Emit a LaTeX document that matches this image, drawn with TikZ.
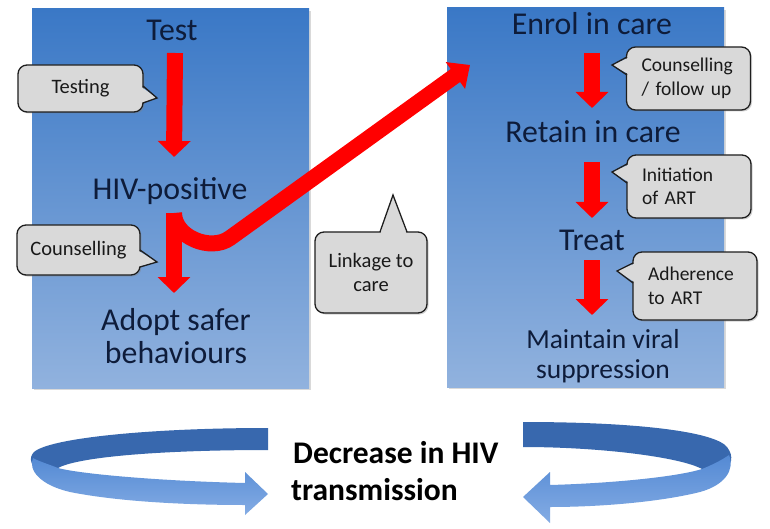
\documentclass[tikz,border=0pt]{standalone}
\usepackage{fontspec}
\setmainfont{Carlito}
\usetikzlibrary{arrows.meta,calc,shadows}
\definecolor{boxtop}{RGB}{58,120,198}
\definecolor{boxbot}{RGB}{145,178,222}
\definecolor{navy}{RGB}{14,28,58}
\definecolor{bubblefill}{RGB}{217,217,217}
\definecolor{bubbleline}{RGB}{30,30,30}
\definecolor{ribdark}{RGB}{56,104,174}
\definecolor{ribtop}{RGB}{84,138,212}
\definecolor{ribbot}{RGB}{132,172,228}
\definecolor{arrred}{RGB}{255,0,0}
\tikzset{
  stage/.style={font=\fontsize{31.8}{34}\selectfont, text=navy, anchor=base, inner sep=0pt},
  smallstage/.style={font=\fontsize{27.5}{30}\selectfont, text=navy, anchor=base, inner sep=0pt},
  outcome/.style={font=\bfseries\fontsize{31.5}{37}\selectfont, text=black, anchor=base west, inner sep=0pt},
  bubble/.style={draw=bubbleline, line width=1.3pt, fill=bubblefill, rounded corners=9pt,
    font=\fontsize{20.5}{24}\selectfont, text=black!90, inner ysep=0pt,
    drop shadow={opacity=0.35, shadow xshift=1.5pt, shadow yshift=-1.5pt}},
  rbubble/.style={bubble, font=\fontsize{19.5}{23.5}\selectfont, text width=94pt, inner xsep=15pt, align=left},
  pfill/.style={fill=bubblefill},
  pline/.style={draw=bubbleline, line width=1.3pt, line join=miter},
  redarrow/.style={draw=arrred, line width=16pt, -{Triangle[width=32pt,length=16pt]}},
  linkarrow/.style={draw=arrred, line width=16pt, -{Triangle[width=32pt,length=18pt]}},
  panel/.style={top color=boxtop, bottom color=boxbot},
  panelshadow/.style={fill=black, opacity=0.15},
  ribback/.style={fill=ribdark},
  ribfront/.style={top color=ribtop, bottom color=ribbot}
}
\begin{document}
\begin{tikzpicture}[x=1pt,y=-1pt]
\useasboundingbox (0,0) rectangle (770,529);
\fill[white] (0,0) rectangle (770,529);

% panels
\fill[panelshadow] (34,11) rectangle (311,390);
\fill[panelshadow] (449,10) rectangle (726,389);
\shade[panel] (32,9) rectangle (309,388);
\shade[panel] (447,8) rectangle (724,387);

% left panel labels
\node[stage] (test) at (172,41) {Test};
\node[stage] (hiv) at (170,200) {HIV-positive};
\node[stage] (adopt1) at (176,330) {Adopt safer};
\node[stage] (adopt2) at (176,363) {behaviours};

% right panel labels
\node[stage] (enrol) at (592,35) {Enrol in care};
\node[stage] (retain) at (593,143) {Retain in care};
\node[stage] (treat) at (592,250) {Treat};
\node[smallstage] (maint1) at (603,348) {Maintain viral};
\node[smallstage] (maint2) at (603,378) {suppression};

% red arrows
\coordinate (linkbend) at (230,238);
\coordinate (linktip) at (470,65);
\draw[linkarrow] ($(hiv.base)+(4,13)$) to[out=-90,in=216] (linkbend) -- (linktip);
\draw[redarrow] ($(test.base)+(3,12)$) -- ($(hiv.base)+(4,-43)$);
\draw[redarrow] ($(hiv.base)+(4,13)$) -- ($(adopt1.base)+(-2,-37)$);
\draw[redarrow] ($(enrol.base)+(0,18)$) -- ($(retain.base)+(-1,-35)$);
\draw[redarrow] ($(retain.base)+(-1,19)$) -- ($(treat.base)+(0,-32)$);
\draw[redarrow] ($(treat.base)+(0,10)$) -- ($(maint1.base)+(-11,-33)$);

% callouts
\node[bubble, minimum width=125pt, minimum height=47pt, align=center] (btest) at (80.5,88.5) {Testing};
\fill[pfill] (140,86) -- (157,98) -- (140,103) -- cycle;
\draw[pline] (143,86) -- (157,98) -- (143,103);

\node[bubble, minimum width=123pt, minimum height=50pt, align=center] (bcouns) at (78.5,250) {Counselling};
\fill[pfill] (137,250) -- (157,262) -- (137,267) -- cycle;
\draw[pline] (140,250) -- (157,262) -- (140,267);

\node[bubble, minimum width=112pt, minimum height=81pt, align=center] (blink) at (371,272.5) {Linkage to\\care};
\fill[pfill] (380,235) -- (393,195) -- (407,235) -- cycle;
\draw[pline] (380,232) -- (393,195) -- (407,232);

\node[rbubble, minimum height=63pt] (bfollow) at (688.5,78.5) {Counselling\\/ follow up};
\fill[pfill] (630,57) -- (612,65) -- (630,75) -- cycle;
\draw[pline] (627,57) -- (612,65) -- (627,75);

\node[rbubble, minimum height=63pt] (binit) at (689,186.5) {Initiation\\of ART};
\fill[pfill] (630,164) -- (612,172) -- (630,183) -- cycle;
\draw[pline] (627,164) -- (612,172) -- (627,183);

\node[rbubble, minimum height=68pt] (badh) at (695,286) {Adherence\\to ART};
\fill[pfill] (636,263) -- (617,271) -- (636,283) -- cycle;
\draw[pline] (633,263) -- (617,271) -- (633,283);

% circular ribbons (left)
\fill[ribback] (268,428) .. controls (150,428) and (50,438) .. (34,452)
  .. controls (28,458) and (30,468) .. (45,474) -- (58,468)
  .. controls (80,456) and (170,450) .. (268,450) -- cycle;
\shade[ribfront] (33,458) .. controls (28,470) and (40,485) .. (70,492)
  .. controls (120,502) and (190,505) .. (245,505)
  -- (245,515) -- (268,494) -- (245,472) -- (245,483)
  .. controls (160,481) and (80,474) .. (58,468)
  .. controls (48,464) and (38,461) .. (33,458) -- cycle;

% circular ribbons (right)
\fill[ribback] (523,422) .. controls (640,422) and (715,432) .. (727,447)
  .. controls (734,456) and (733,466) .. (720,473) -- (702,469)
  .. controls (680,457) and (600,447) .. (523,447) -- cycle;
\shade[ribfront] (729,455) .. controls (735,470) and (725,485) .. (700,492)
  .. controls (660,502) and (600,507) .. (550,507)
  -- (550,523) -- (523,497) -- (550,472) -- (550,485)
  .. controls (620,483) and (680,476) .. (702,469)
  .. controls (712,465) and (722,460) .. (729,455) -- cycle;

% outcome text
\node[outcome] (dec1) at (293,463) {Decrease in HIV};
\node[outcome] (dec2) at (291,500) {transmission};
\end{tikzpicture}
\end{document}
